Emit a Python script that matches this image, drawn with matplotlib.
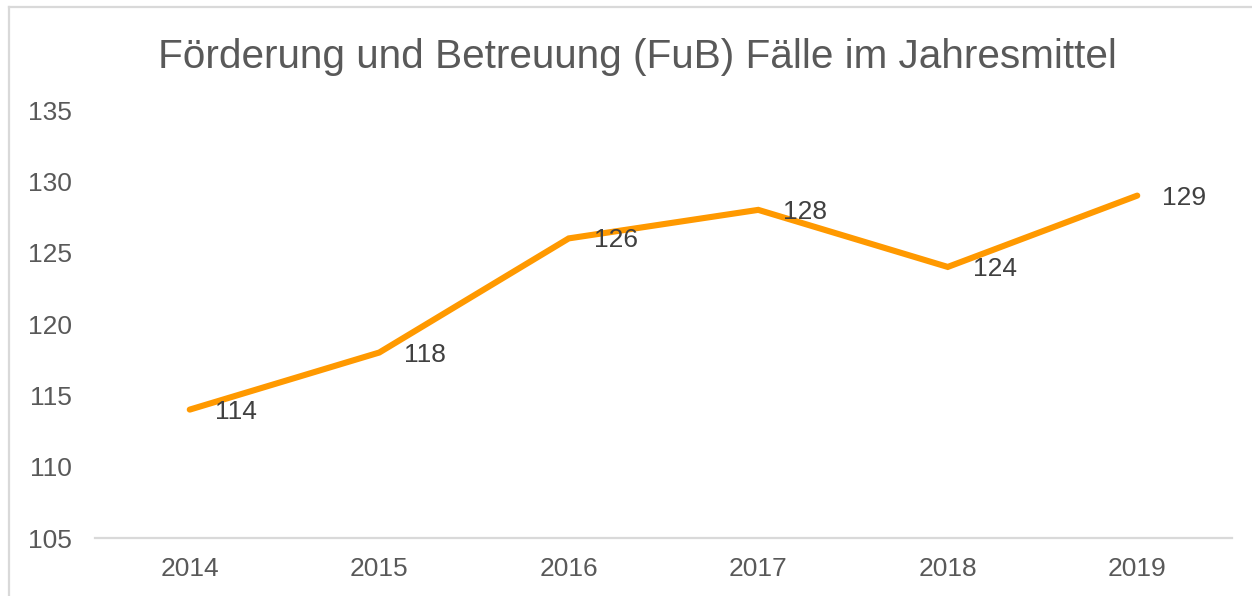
import matplotlib
matplotlib.use("Agg")
import matplotlib.pyplot as plt
from matplotlib.lines import Line2D

years = ["2014", "2015", "2016", "2017", "2018", "2019"]
cases = [114, 118, 126, 128, 124, 129]
yticks = [105, 110, 115, 120, 125, 130, 135]
title = "Förderung und Betreuung (FuB) Fälle im Jahresmittel"

plt.rcParams['font.family'] = ['Liberation Sans', 'DejaVu Sans']

W, H = 1252, 596
fig = plt.figure(figsize=(W / 100, H / 100), dpi=100)
fig.patch.set_facecolor('white')

# chart border (left and top visible)
fig.add_artist(Line2D([9 / W, 9 / W], [0, 1 - 7 / H], color='#d9d9d9', lw=1.6,
                      transform=fig.transFigure))
fig.add_artist(Line2D([9 / W, 1], [1 - 7 / H, 1 - 7 / H], color='#d9d9d9', lw=1.6,
                      transform=fig.transFigure))

ax = fig.add_axes([95 / W, 1 - 538 / H, (1232 - 95) / W, (538 - 110) / H])
x = list(range(len(years)))
ax.plot(x, cases, color='#FF9900', lw=4.4, solid_capstyle='round',
        solid_joinstyle='miter', clip_on=False, zorder=3)

ax.set_xlim(-0.5, len(years) - 0.5)
ax.set_ylim(105, 135)
ax.set_yticks(yticks)
ax.set_yticklabels([str(v) for v in yticks])
ax.set_xticks(x)
ax.set_xticklabels(years)

for s in ['top', 'right', 'left']:
    ax.spines[s].set_visible(False)
ax.spines['bottom'].set_color('#d9d9d9')
ax.spines['bottom'].set_linewidth(1.6)

ax.tick_params(axis='both', length=0, labelsize=19, labelcolor='#595959')
ax.tick_params(axis='y', pad=16.5)
ax.tick_params(axis='x', pad=13.5)

for xi, v in zip(x, cases):
    ax.annotate(str(v), (xi, v), xytext=(18, -1.5), textcoords='offset points',
                ha='left', va='center', fontsize=19, color='#404040', zorder=4)

fig.text(637 / W, 1 - 68 / H, title, ha='center', va='baseline',
         fontsize=29.2, color='#595959')

fig.savefig('out.png', dpi=100, facecolor='white')
